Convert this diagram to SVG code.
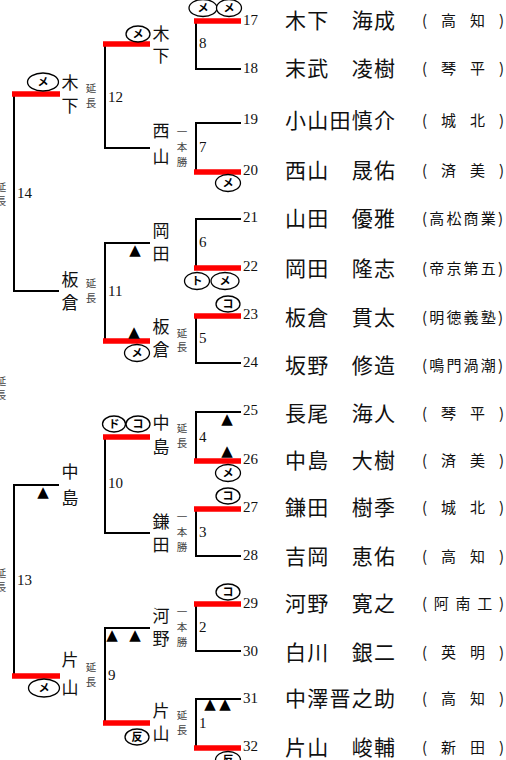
<svg xmlns="http://www.w3.org/2000/svg" width="506" height="760" viewBox="0 0 506 760">
<style>
.ln{stroke:#000;stroke-width:2;fill:none}
.rd{stroke:#f00;stroke-width:5.5;fill:none}
.jp{font-family:"Noto Sans CJK JP",sans-serif;fill:#111}
.nm{font-size:21px}
.sc{font-size:15px}
.no{font-family:"Liberation Serif",serif;font-size:15px;fill:#111}
.vn{font-family:"Noto Sans CJK JP",sans-serif;font-size:17px;text-anchor:middle;fill:#111}
.an{font-family:"Noto Sans CJK JP",sans-serif;font-size:10.5px;fill:#444;text-anchor:middle}
.mk ellipse{fill:#fff;stroke:#000;stroke-width:1.3}
.mk text{font-family:"Noto Sans CJK JP",sans-serif;font-size:11px;font-weight:bold;text-anchor:middle;fill:#000}
.tri{font-family:"DejaVu Sans",sans-serif;font-size:15px;text-anchor:middle;fill:#000}
</style>
<rect width="506" height="760" fill="#fff"/>

<g id="connectors">
  <path class="ln" d="M241,21H196V69H241"/>
  <path class="ln" d="M241,123H196V172H241"/>
  <path class="ln" d="M241,219H196V268H241"/>
  <path class="ln" d="M241,316H196V363H241"/>
  <path class="ln" d="M241,412H196V461H241"/>
  <path class="ln" d="M241,509H196V556H241"/>
  <path class="ln" d="M241,604H196V651H241"/>
  <path class="ln" d="M241,699H196V748H241"/>
  <path class="ln" d="M150,44H105V148H150"/>
  <path class="ln" d="M150,243H105V341H150"/>
  <path class="ln" d="M150,437H105V533H150"/>
  <path class="ln" d="M150,628H105V723H150"/>
  <path class="ln" d="M59,94H14V291H59"/>
  <path class="ln" d="M59,485H14V676H59"/>
  <path class="rd" d="M194,21H241M194,172H241M194,268H241M194,316H241M194,461H241M194,509H241M194,604H241M194,748H241"/>
  <path class="rd" d="M103,44H150M103,341H150M103,437H150M103,723H150"/>
  <path class="rd" d="M12,94H60M12,676H60"/>
</g>

<g id="entrants">
  <g id="e17"><text class="no" x="243" y="25">17</text><text class="jp nm" x="285" y="28" textLength="110">木下　海成</text><text class="jp sc" x="422" y="26" textLength="82">(高知)</text></g>
  <g id="e18"><text class="no" x="243" y="73">18</text><text class="jp nm" x="285" y="76" textLength="110">末武　凌樹</text><text class="jp sc" x="422" y="74" textLength="82">(琴平)</text></g>
  <g id="e19"><text class="no" x="243" y="124">19</text><text class="jp nm" x="285" y="128" textLength="110">小山田慎介</text><text class="jp sc" x="422" y="126" textLength="82">(城北)</text></g>
  <g id="e20"><text class="no" x="243" y="175">20</text><text class="jp nm" x="285" y="178" textLength="110">西山　晟佑</text><text class="jp sc" x="422" y="176" textLength="82">(済美)</text></g>
  <g id="e21"><text class="no" x="243" y="222">21</text><text class="jp nm" x="285" y="226" textLength="110">山田　優雅</text><text class="jp sc" x="422" y="224" textLength="81">(高松商業)</text></g>
  <g id="e22"><text class="no" x="243" y="271">22</text><text class="jp nm" x="285" y="276" textLength="110">岡田　隆志</text><text class="jp sc" x="422" y="274" textLength="81">(帝京第五)</text></g>
  <g id="e23"><text class="no" x="243" y="319">23</text><text class="jp nm" x="285" y="325" textLength="110">板倉　貫太</text><text class="jp sc" x="422" y="323" textLength="81">(明徳義塾)</text></g>
  <g id="e24"><text class="no" x="243" y="367">24</text><text class="jp nm" x="285" y="373" textLength="110">坂野　修造</text><text class="jp sc" x="422" y="371" textLength="81">(鳴門渦潮)</text></g>
  <g id="e25"><text class="no" x="243" y="415">25</text><text class="jp nm" x="285" y="421" textLength="110">長尾　海人</text><text class="jp sc" x="422" y="419" textLength="82">(琴平)</text></g>
  <g id="e26"><text class="no" x="243" y="464">26</text><text class="jp nm" x="285" y="468" textLength="110">中島　大樹</text><text class="jp sc" x="422" y="466" textLength="82">(済美)</text></g>
  <g id="e27"><text class="no" x="243" y="512">27</text><text class="jp nm" x="285" y="515" textLength="110">鎌田　樹季</text><text class="jp sc" x="422" y="513" textLength="82">(城北)</text></g>
  <g id="e28"><text class="no" x="243" y="560">28</text><text class="jp nm" x="285" y="564" textLength="110">吉岡　恵佑</text><text class="jp sc" x="422" y="562" textLength="82">(高知)</text></g>
  <g id="e29"><text class="no" x="243" y="608">29</text><text class="jp nm" x="285" y="611" textLength="110">河野　寛之</text><text class="jp sc" x="422" y="609" textLength="82">(阿南工)</text></g>
  <g id="e30"><text class="no" x="243" y="656">30</text><text class="jp nm" x="285" y="660" textLength="110">白川　銀二</text><text class="jp sc" x="422" y="658" textLength="82">(英明)</text></g>
  <g id="e31"><text class="no" x="243" y="703">31</text><text class="jp nm" x="285" y="706" textLength="110">中澤晋之助</text><text class="jp sc" x="422" y="704" textLength="82">(高知)</text></g>
  <g id="e32"><text class="no" x="243" y="751">32</text><text class="jp nm" x="285" y="755" textLength="110">片山　峻輔</text><text class="jp sc" x="422" y="753" textLength="82">(新田)</text></g>
</g>

<g id="m8"><text class="no" x="199" y="48">8</text>
  <g class="mk"><ellipse cx="203" cy="8" rx="14" ry="8.5"/><text x="203" y="12">メ</text><ellipse cx="229" cy="8" rx="12.5" ry="8.5"/><text x="229" y="12">メ</text></g></g>
<g id="m7"><text class="no" x="199" y="152">7</text>
  <g class="mk"><ellipse cx="228" cy="183" rx="12.5" ry="8.5"/><text x="228" y="187">メ</text></g></g>
<g id="m6"><text class="no" x="199" y="247">6</text>
  <g class="mk"><ellipse cx="197" cy="281" rx="12.5" ry="8.5"/><text x="197" y="285">ト</text><ellipse cx="225" cy="281" rx="14" ry="8.5"/><text x="225" y="285">メ</text></g></g>
<g id="m5"><text class="no" x="199" y="343">5</text>
  <g class="mk"><ellipse cx="228" cy="304" rx="12" ry="8"/><text x="228" y="308">コ</text></g></g>
<g id="m4"><text class="no" x="199" y="442">4</text>
  <text class="tri" x="227" y="424">▲</text><text class="tri" x="227" y="456">▲</text>
  <g class="mk"><ellipse cx="228" cy="473" rx="12.5" ry="8.5"/><text x="228" y="477">メ</text></g></g>
<g id="m3"><text class="no" x="199" y="537">3</text>
  <g class="mk"><ellipse cx="228" cy="496" rx="12" ry="8"/><text x="228" y="500">コ</text></g></g>
<g id="m2"><text class="no" x="199" y="632">2</text>
  <g class="mk"><ellipse cx="228" cy="592" rx="12" ry="8"/><text x="228" y="596">コ</text></g></g>
<g id="m1"><text class="no" x="199" y="728">1</text>
  <text class="tri" x="210" y="709">▲</text><text class="tri" x="225" y="709">▲</text>
  <g class="mk"><ellipse cx="228" cy="760" rx="12.5" ry="8.5"/><text x="228" y="764">反</text></g></g>

<g id="m12"><text class="no" x="108" y="102">12</text>
  <text class="vn" x="161" y="40">木</text><text class="vn" x="161" y="62">下</text>
  <text class="vn" x="161" y="137">西</text><text class="vn" x="161" y="163">山</text>
  <text class="an" x="182" y="136">一</text><text class="an" x="182" y="151">本</text><text class="an" x="182" y="166">勝</text>
  <g class="mk"><ellipse cx="138" cy="34" rx="12" ry="8"/><text x="138" y="38">メ</text></g></g>
<g id="m11"><text class="no" x="108" y="296">11</text>
  <text class="vn" x="161" y="237">岡</text><text class="vn" x="161" y="260">田</text>
  <text class="vn" x="161" y="333">板</text><text class="vn" x="161" y="356">倉</text>
  <text class="an" x="182" y="337">延</text><text class="an" x="182" y="351">長</text>
  <text class="tri" x="135" y="255">▲</text><text class="tri" x="134" y="337">▲</text>
  <g class="mk"><ellipse cx="137" cy="353" rx="12.5" ry="8.5"/><text x="137" y="357">メ</text></g></g>
<g id="m10"><text class="no" x="108" y="488">10</text>
  <text class="vn" x="161" y="429">中</text><text class="vn" x="161" y="453">島</text>
  <text class="vn" x="161" y="528">鎌</text><text class="vn" x="161" y="551">田</text>
  <text class="an" x="182" y="432">延</text><text class="an" x="182" y="447">長</text>
  <text class="an" x="182" y="521">一</text><text class="an" x="182" y="536">本</text><text class="an" x="182" y="551">勝</text>
  <g class="mk"><ellipse cx="114" cy="424" rx="11.5" ry="8"/><text x="114" y="428">ド</text><ellipse cx="138" cy="424" rx="12" ry="8"/><text x="138" y="428">コ</text></g></g>
<g id="m9"><text class="no" x="108" y="680">9</text>
  <text class="vn" x="161" y="622">河</text><text class="vn" x="161" y="645">野</text>
  <text class="vn" x="161" y="717">片</text><text class="vn" x="161" y="740">山</text>
  <text class="an" x="182" y="616">一</text><text class="an" x="182" y="631">本</text><text class="an" x="182" y="646">勝</text>
  <text class="an" x="182" y="719">延</text><text class="an" x="182" y="734">長</text>
  <text class="tri" x="112" y="640">▲</text><text class="tri" x="135" y="640">▲</text>
  <g class="mk"><ellipse cx="137" cy="737" rx="12" ry="8"/><text x="137" y="741">反</text></g></g>

<g id="m14"><text class="no" x="17" y="198">14</text>
  <text class="vn" x="70" y="89">木</text><text class="vn" x="70" y="112">下</text>
  <text class="vn" x="70" y="286">板</text><text class="vn" x="70" y="309">倉</text>
  <text class="an" x="91" y="92">延</text><text class="an" x="91" y="107">長</text>
  <text class="an" x="91" y="287">延</text><text class="an" x="91" y="302">長</text>
  <g class="mk"><ellipse cx="43" cy="82" rx="15.5" ry="9"/><text x="43" y="86">メ</text></g></g>
<g id="m13"><text class="no" x="17" y="585">13</text>
  <text class="vn" x="70" y="478">中</text><text class="vn" x="70" y="504">島</text>
  <text class="vn" x="70" y="666">片</text><text class="vn" x="70" y="694">山</text>
  <text class="an" x="91" y="671">延</text><text class="an" x="91" y="686">長</text>
  <text class="tri" x="43" y="497">▲</text>
  <g class="mk"><ellipse cx="44" cy="688" rx="15.5" ry="9"/><text x="44" y="692">メ</text></g></g>

<g id="edge-notes">
  <text class="an" x="1" y="191">延</text><text class="an" x="1" y="205">長</text>
  <text class="an" x="1" y="385">延</text><text class="an" x="1" y="399">長</text>
  <text class="an" x="1" y="577">延</text><text class="an" x="1" y="591">長</text>
</g>
</svg>
